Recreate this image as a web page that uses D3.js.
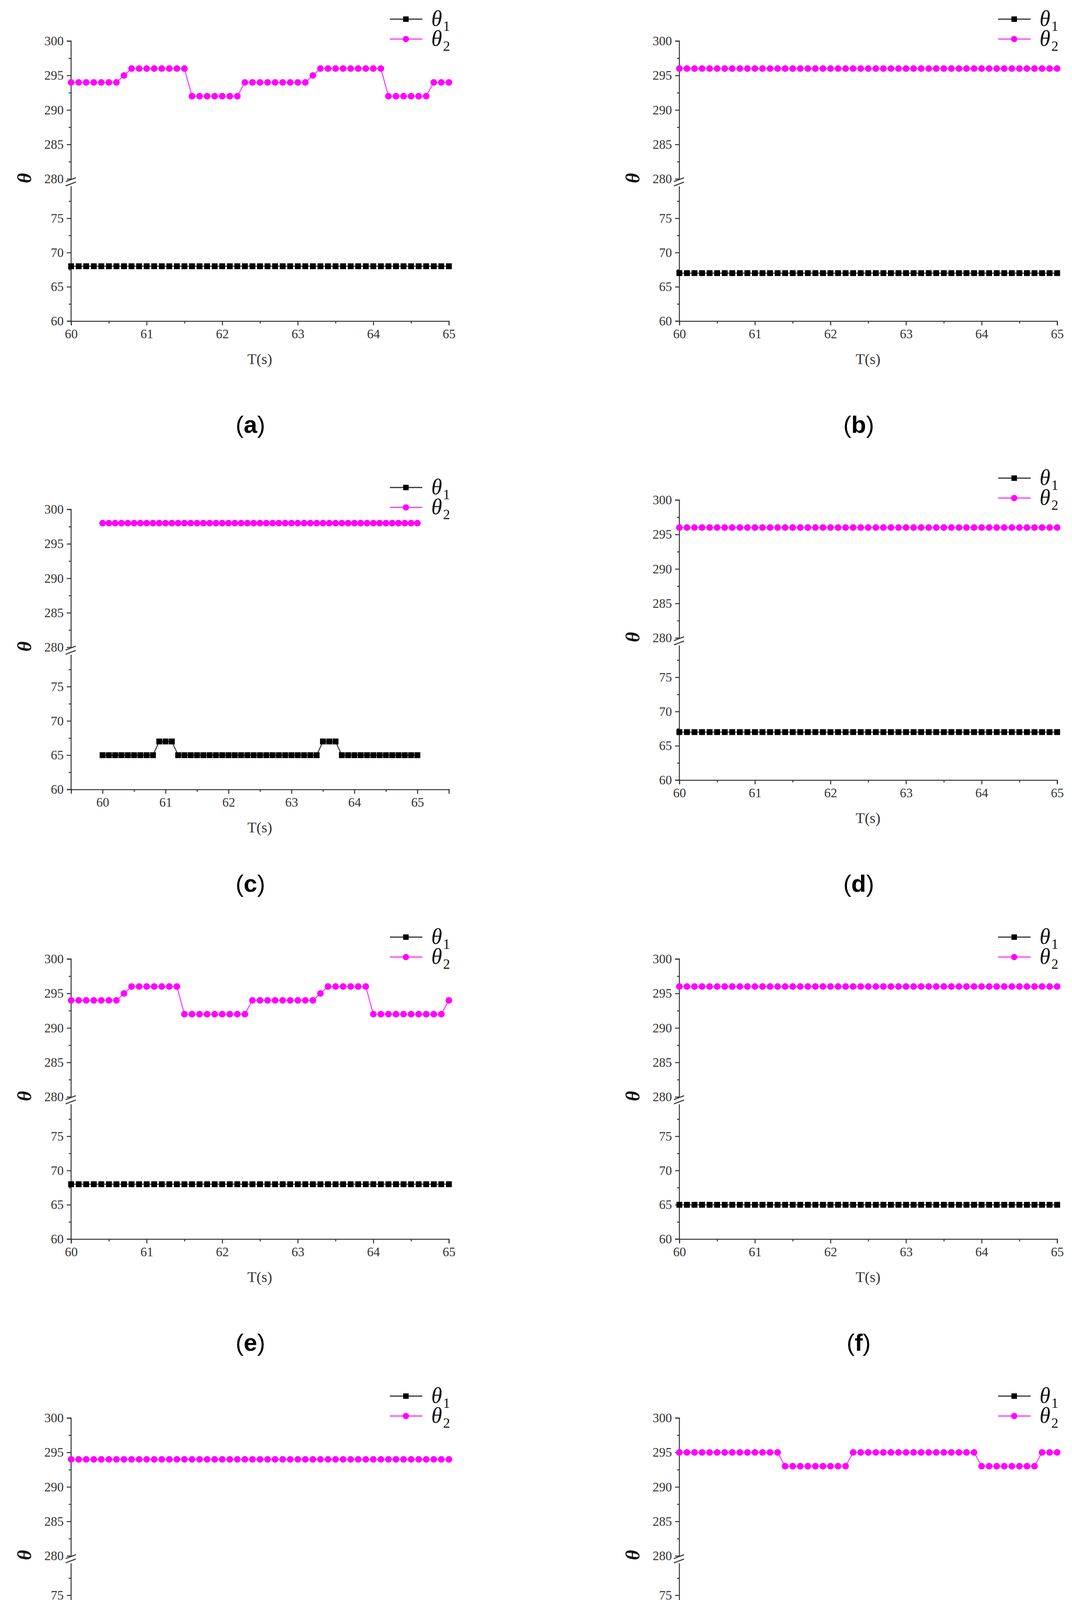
<!DOCTYPE html>
<html><head><meta charset="utf-8">
<script src="https://cdn.jsdelivr.net/npm/d3@7/dist/d3.min.js"></script>
<style>html,body{margin:0;padding:0;background:#fff;overflow:hidden}svg{display:block}</style></head>
<body><svg id="c" width="2744" height="4673"></svg>
<script>
const times = d3.range(51).map(i => +(60 + i * 0.1).toFixed(1));
const rep = (v, n) => Array(n).fill(v);
const labels = ["a","b","c","d","e","f","g","h"];
const theta1 = {
  a: rep(68, 51), b: rep(67, 51),
  c: [...rep(65, 9), ...rep(67, 3), ...rep(65, 23), ...rep(67, 3), ...rep(65, 13)],
  d: rep(67, 51), e: rep(68, 51), f: rep(65, 51), g: rep(66, 51), h: rep(64, 51)
};
const theta2 = {
  a: [...rep(294,7), 295, ...rep(296,8), ...rep(292,7), ...rep(294,9), 295, ...rep(296,9), ...rep(292,6), ...rep(294,3)],
  b: rep(296, 51),
  c: rep(298, 51),
  d: rep(296, 51),
  e: [...rep(294,7), 295, ...rep(296,7), ...rep(292,9), ...rep(294,9), 295, ...rep(296,6), ...rep(292,10), 294],
  f: rep(296, 51),
  g: rep(294, 51),
  h: [...rep(295,14), ...rep(293,9), ...rep(295,17), ...rep(293,8), ...rep(295,3)]
};
const xTicks = [60, 61, 62, 63, 64, 65];
const upperTicks = [280, 285, 290, 295, 300];
const lowerTicks = [60, 65, 70, 75];
const xDomains = {c: [59.5, 65.5]};

const svg = d3.select("#c");
const font = "Liberation Serif, Times New Roman, serif";
labels.forEach((k, i) => {
  const col = i % 2, row = Math.floor(i / 2);
  const ox = col * 1557, oy = row * 1175 + (k === "c" ? 24 : 0);
  const g = svg.append("g").attr("transform", `translate(${ox},${oy})`);
  const L = 182, R = 1149;
  const x = d3.scaleLinear().domain(xDomains[k] || [60, 65]).range([L, R]);
  const yU = d3.scaleLinear().domain([280, 300]).range([458, 105]);
  const yL = d3.scaleLinear().domain([60, 80]).range([822, 471]);
  const y = v => v >= 200 ? yU(v) : yL(v);

  g.append("g").attr("transform", "translate(0,822)")
    .call(d3.axisBottom(x).tickValues(xTicks).tickSize(11).tickPadding(10).tickFormat(d3.format("d")));
  g.append("g").attr("transform", "translate(0,822)")
    .call(d3.axisBottom(x).tickValues(d3.range(x.domain()[0], x.domain()[1] + 0.01, 0.5).filter(v => !Number.isInteger(v))).tickSize(6).tickFormat(""))
    .select(".domain").remove();
  const ya = g.append("g").attr("transform", `translate(${L},0)`)
    .call(d3.axisLeft(yU).tickValues(upperTicks).tickSize(11).tickPadding(8));
  g.append("g").attr("transform", `translate(${L},0)`)
    .call(d3.axisLeft(yU).tickValues([282.5, 287.5, 292.5, 297.5]).tickSize(6).tickFormat("")).select(".domain").remove();
  const yb = g.append("g").attr("transform", `translate(${L},0)`)
    .call(d3.axisLeft(yL).tickValues(lowerTicks).tickSize(11).tickPadding(8));
  g.append("g").attr("transform", `translate(${L},0)`)
    .call(d3.axisLeft(yL).tickValues([62.5, 67.5, 72.5, 77.5]).tickSize(6).tickFormat("")).select(".domain").remove();
  yb.select(".domain").attr("d", `M-11,${yL(60)}H0V${yL(80)+6}`);
  ya.select(".domain").attr("d", `M-11,${yU(300)}H0V${yU(280)}`);
  g.selectAll(".domain, .tick line").attr("stroke", "#333").attr("stroke-width", 2.5);
  g.selectAll(".tick text").attr("font-family", font).attr("font-size", 33).attr("fill", "#333");
  [yU(280) + 2, yL(80)].forEach(yy => g.append("line").attr("x1", L - 14).attr("x2", L + 12)
    .attr("y1", yy + 5).attr("y2", yy - 5).attr("stroke", "#333").attr("stroke-width", 2.5));

  const line = d3.line().x((d, j) => x(times[j])).y(d => y(d));
  g.append("path").datum(theta2[k]).attr("d", line).attr("fill", "none").attr("stroke", "#ff33ff").attr("stroke-width", 2.5);
  g.append("path").datum(theta1[k]).attr("d", line).attr("fill", "none").attr("stroke", "#333").attr("stroke-width", 2.5);
  g.selectAll(".p2").data(theta2[k]).join("circle").attr("cx", (d, j) => x(times[j])).attr("cy", d => y(d)).attr("r", 8.5).attr("fill", "#ff00ff");
  g.selectAll(".p1").data(theta1[k]).join("rect").attr("x", (d, j) => x(times[j]) - 7.5).attr("y", d => y(d) - 7.5).attr("width", 15).attr("height", 15).attr("fill", "#000");

  const lg = [[49, "#333", "1", "rect"], [100, "#ff33ff", "2", "circle"]];
  lg.forEach(([ly, c, sub, m]) => {
    g.append("line").attr("x1", 998).attr("x2", 1081).attr("y1", ly).attr("y2", ly).attr("stroke", c).attr("stroke-width", 3);
    if (m === "rect") g.append("rect").attr("x", 1032).attr("y", ly - 7).attr("width", 14).attr("height", 14).attr("fill", "#000");
    else g.append("circle").attr("cx", 1039).attr("cy", ly).attr("r", 8).attr("fill", "#ff00ff");
    g.append("text").attr("x", 1104).attr("y", ly + 17).attr("font-family", font).attr("font-size", 56).attr("font-style", "italic").attr("fill", "#111").text("θ");
    g.append("text").attr("x", 1134).attr("y", ly + 30).attr("font-family", font).attr("font-size", 36).attr("fill", "#111").text(sub);
  });

  g.append("text").attr("x", 665).attr("y", 932).attr("text-anchor", "middle").attr("font-family", font).attr("font-size", 38).attr("fill", "#333").text("T(s)");
  g.append("text").attr("transform", `translate(80,456) rotate(-90)`).attr("text-anchor", "middle").attr("font-family", font).attr("font-size", 50).attr("font-style", "italic").attr("font-weight", "bold").attr("fill", "#111").text("θ");
  const cap = g.append("text").attr("x", 641).attr("y", 1108 - (k === "c" ? 24 : 0)).attr("text-anchor", "middle").attr("font-family", "Liberation Sans, Arial, sans-serif").attr("font-size", 62).attr("fill", "#000");
  cap.append("tspan").text("(");
  cap.append("tspan").attr("font-weight", "bold").text(k);
  cap.append("tspan").text(")");
});
</script></body></html>
